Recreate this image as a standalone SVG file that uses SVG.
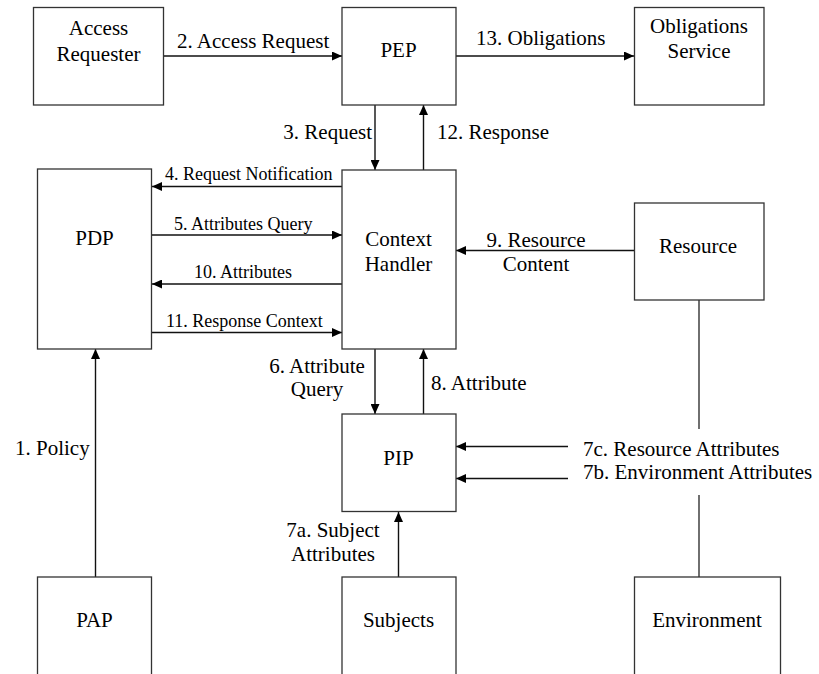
<svg xmlns="http://www.w3.org/2000/svg" width="819" height="674" viewBox="0 0 819 674">
<style>
  .box { fill: #fff; stroke: #333; stroke-width: 1.3; }
  .ln { fill: none; stroke: #222; stroke-width: 1.3; }
  .arr { fill: none; stroke: #111; stroke-width: 1.4; marker-end: url(#ah); }
  text { font-family: "Liberation Serif", "Times New Roman", serif; fill: #000; }
  .n { font-size: 21px; text-anchor: middle; }
  .l { font-size: 21px; }
  .s { font-size: 18px; }
  .m { text-anchor: middle; }
  .e { text-anchor: end; }
</style>
<defs>
  <marker id="ah" viewBox="0 0 10 9" refX="10" refY="4.5" markerWidth="10" markerHeight="9" markerUnits="userSpaceOnUse" orient="auto">
    <path d="M0,0 L10,4.5 L0,9 Z" fill="#000"/>
  </marker>
</defs>
<rect width="819" height="674" fill="#fff"/>

<g id="connectors">
  <line class="arr" x1="163" y1="56" x2="342" y2="56"/>
  <line class="arr" x1="456" y1="56" x2="634" y2="56"/>
  <line class="arr" x1="375" y1="105" x2="375" y2="170"/>
  <line class="arr" x1="423.5" y1="170" x2="423.5" y2="105"/>
  <line class="arr" x1="342" y1="186.5" x2="152" y2="186.5"/>
  <line class="arr" x1="152" y1="235" x2="342" y2="235"/>
  <line class="arr" x1="342" y1="284" x2="152" y2="284"/>
  <line class="arr" x1="152" y1="332.5" x2="342" y2="332.5"/>
  <line class="arr" x1="634" y1="250.5" x2="456" y2="250.5"/>
  <line class="arr" x1="375" y1="349" x2="375" y2="414"/>
  <line class="arr" x1="423.5" y1="414" x2="423.5" y2="349"/>
  <line class="arr" x1="568" y1="446.5" x2="456" y2="446.5"/>
  <line class="arr" x1="568" y1="478.5" x2="456" y2="478.5"/>
  <line class="arr" x1="398.5" y1="577" x2="398.5" y2="512"/>
  <line class="arr" x1="95.5" y1="577" x2="95.5" y2="349"/>
  <line class="ln" x1="699" y1="300" x2="699" y2="429"/>
  <line class="ln" x1="699" y1="495" x2="699" y2="577"/>

  <text class="l" x="177" y="48">2. Access Request</text>
  <text class="l" x="476" y="45">13. Obligations</text>
  <text class="l e" x="372" y="139">3. Request</text>
  <text class="l" x="437" y="139">12. Response</text>
  <text class="s" x="165" y="180">4. Request Notification</text>
  <text class="s" x="174" y="230">5. Attributes Query</text>
  <text class="s" x="194" y="278">10. Attributes</text>
  <text class="s" x="166" y="326.5">11. Response Context</text>
  <text class="l m" x="536" y="247">9. Resource</text>
  <text class="l m" x="536" y="270.5">Content</text>
  <text class="l m" x="317" y="373">6. Attribute</text>
  <text class="l m" x="317" y="395.5">Query</text>
  <text class="l" x="431" y="390">8. Attribute</text>
  <text class="l" x="583" y="455.5">7c. Resource Attributes</text>
  <text class="l" x="583" y="479">7b. Environment Attributes</text>
  <text class="l m" x="333" y="536.5">7a. Subject</text>
  <text class="l m" x="333" y="560.5">Attributes</text>
  <text class="l" x="15" y="455">1. Policy</text>
</g>

<g id="access-requester">
  <rect class="box" x="33.5" y="7.5" width="130" height="97.5"/>
  <text class="n" x="98.5" y="35">Access</text>
  <text class="n" x="98.5" y="61">Requester</text>
</g>
<g id="pep">
  <rect class="box" x="342" y="7.5" width="114" height="97.5"/>
  <text class="n" x="398.5" y="57">PEP</text>
</g>
<g id="obligations-service">
  <rect class="box" x="634.5" y="7.5" width="129.5" height="97.5"/>
  <text class="n" x="699" y="33">Obligations</text>
  <text class="n" x="699" y="58">Service</text>
</g>
<g id="pdp">
  <rect class="box" x="37.5" y="169" width="114" height="180"/>
  <text class="n" x="94.5" y="245">PDP</text>
</g>
<g id="context-handler">
  <rect class="box" x="342" y="170" width="114" height="179"/>
  <text class="n" x="398.5" y="246">Context</text>
  <text class="n" x="398.5" y="271">Handler</text>
</g>
<g id="resource">
  <rect class="box" x="634.5" y="203" width="129.5" height="97"/>
  <text class="n" x="698" y="253">Resource</text>
</g>
<g id="pip">
  <rect class="box" x="342" y="414" width="114" height="97.5"/>
  <text class="n" x="398.5" y="465">PIP</text>
</g>
<g id="pap">
  <rect class="box" x="37.5" y="577" width="114" height="110"/>
  <text class="n" x="94.5" y="627">PAP</text>
</g>
<g id="subjects">
  <rect class="box" x="342" y="577" width="114" height="110"/>
  <text class="n" x="398.5" y="627">Subjects</text>
</g>
<g id="environment">
  <rect class="box" x="634.5" y="577" width="146" height="110"/>
  <text class="n" x="707" y="627">Environment</text>
</g>
</svg>
